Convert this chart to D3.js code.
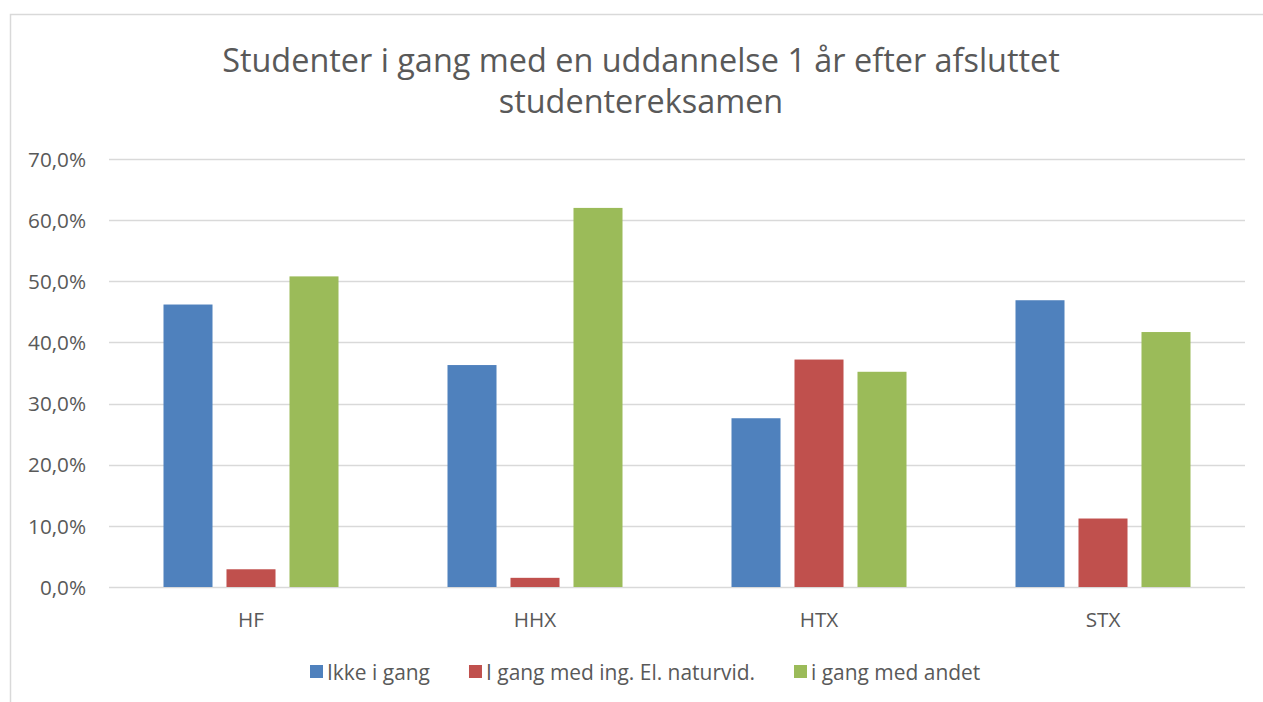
<!DOCTYPE html>
<html>
<head>
<meta charset="utf-8">
<script src="https://cdn.jsdelivr.net/npm/d3@7"></script>
<style>
  html, body { margin: 0; padding: 0; background: #fff; }
  svg { display: block; }
  text { font-family: "Open Sans", "Noto Sans", sans-serif; fill: #595959; }
</style>
</head>
<body>
<div id="chart"></div>
<script>
// data
var categories = ["HF", "HHX", "HTX", "STX"];
var seriesNames = ["Ikke i gang", "I gang med ing. El. naturvid.", "i gang med andet"];
var ikkeIGang = [0.462, 0.363, 0.276, 0.469];
var iGangIng = [0.029, 0.015, 0.372, 0.112];
var iGangAndet = [0.508, 0.620, 0.352, 0.417];
var yTicks = [0, 0.1, 0.2, 0.3, 0.4, 0.5, 0.6, 0.7];
var titleLines = ["Studenter i gang med en uddannelse 1 år efter afsluttet", "studentereksamen"];
var colors = ["#4F81BD", "#C0504D", "#9BBB59"];

var W = 1263, H = 702;
var svg = d3.select("#chart").append("svg").attr("width", W).attr("height", H);

// outer chart frame
svg.append("rect")
    .attr("x", 10.5).attr("y", 14.5)
    .attr("width", 1262).attr("height", 700)
    .attr("fill", "none").attr("stroke", "#D9D9D9").attr("stroke-width", 1.5);

var allSeries = [ikkeIGang, iGangIng, iGangAndet];
var rows = categories.map(function (c, i) {
    var r = { name: c };
    seriesNames.forEach(function (s, j) { r[s] = allSeries[j][i]; });
    return r;
});

var x0 = d3.scaleBand().domain(categories).range([109, 1245]).padding(0);
var x1 = d3.scaleBand().domain(seriesNames).range([0, x0.bandwidth()])
    .paddingInner(0.222).paddingOuter(0.865);
var y = d3.scaleLinear().domain([0, 0.7]).range([587, 159]);
var color = d3.scaleOrdinal().domain(seriesNames).range(colors);

var fmt = d3.formatLocale({ decimal: ",", thousands: ".", grouping: [3], currency: ["", ""] }).format(".1%");

// shrink/grow a font so a text gets the width it has in the picture
function fitFont(sel, base, target) {
    sel.attr("font-size", base);
    var w = sel.node().getComputedTextLength();
    var size = base * target / w;
    return size;
}

// gridlines + y labels
var yAxis = d3.axisLeft(y).tickValues(yTicks).tickFormat(fmt).tickSize(0).tickPadding(0);
var yg = svg.append("g").attr("transform", "translate(86,0)").call(yAxis);
yg.select(".domain").remove();
var yLabels = yg.selectAll("text").attr("dy", "0.35em").style("fill", "#595959");
var ySize = fitFont(yLabels.filter(d => d === 0.7), 18, 58);
yLabels.attr("font-size", ySize);

svg.append("g").selectAll("line")
    .data(yTicks)
    .enter().append("line")
    .attr("x1", 109).attr("x2", 1245)
    .attr("y1", d => Math.round(y(d)) + 0.5)
    .attr("y2", d => Math.round(y(d)) + 0.5)
    .attr("stroke", "#D9D9D9").attr("stroke-width", 1.5);

// bars
svg.append("g").selectAll("g.cat")
    .data(rows)
    .enter().append("g")
    .attr("class", "cat")
    .attr("transform", d => `translate(${x0(d.name)},0)`)
    .selectAll("rect")
    .data(d => seriesNames.map(key => ({ key, value: d[key] })))
    .enter().append("rect")
    .attr("x", d => x1(d.key))
    .attr("y", d => y(d.value))
    .attr("width", x1.bandwidth())
    .attr("height", d => y(0) - y(d.value))
    .attr("fill", d => color(d.key));

// x labels
var xAxis = d3.axisBottom(x0).tickSize(0).tickPadding(0);
var xg = svg.append("g").attr("transform", "translate(0,627)").call(xAxis);
xg.select(".domain").remove();
xg.selectAll("text").attr("font-size", ySize).attr("dy", 0).style("fill", "#595959");

// title, fitted to the width it has in the picture
var title = svg.append("text").attr("text-anchor", "middle").attr("font-size", 30);
title.append("tspan").attr("x", 641).attr("y", 72).text(titleLines[0]);
title.append("tspan").attr("x", 641).attr("y", 113).text(titleLines[1]);
var tw = title.select("tspan").node().getComputedTextLength();
title.attr("font-size", 30 * 838 / tw);

// legend
var legend = svg.append("g");
var lx = 310;
var legSize = null;
seriesNames.forEach(function (s, i) {
    var g = legend.append("g").attr("transform", `translate(${lx},0)`);
    g.append("rect").attr("x", 0).attr("y", 665).attr("width", 13).attr("height", 13).attr("fill", colors[i]);
    var t = g.append("text").attr("x", 17).attr("y", 680).text(s);
    if (legSize === null) legSize = fitFont(t, 19, 103);
    t.attr("font-size", legSize);
    lx += 17 + t.node().getComputedTextLength() + 39;
});
</script>
</body>
</html>
